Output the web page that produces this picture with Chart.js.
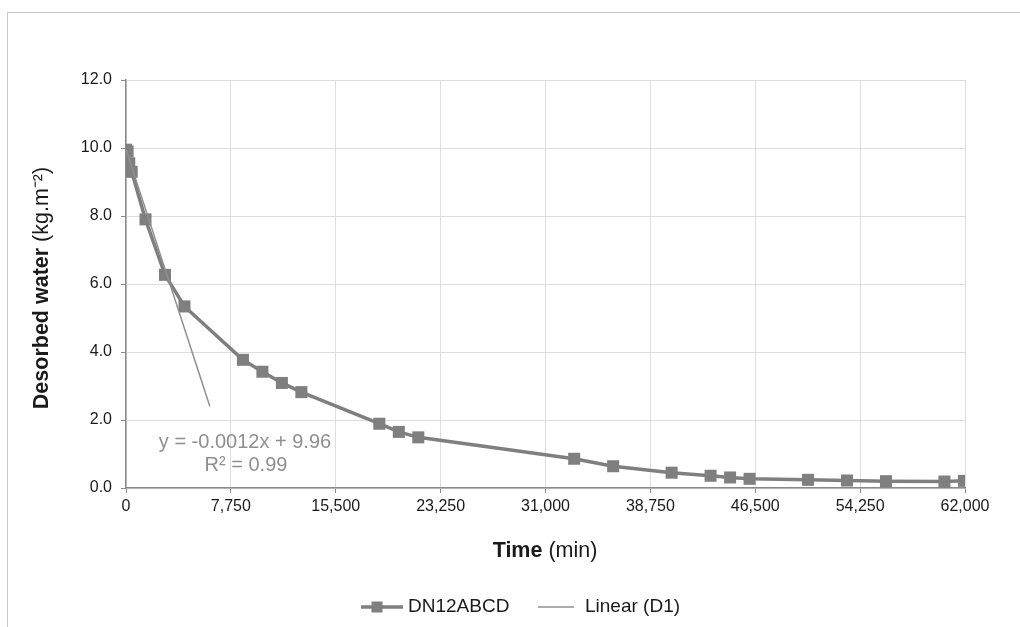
<!DOCTYPE html>
<html>
<head>
<meta charset="utf-8">
<script src="https://cdn.jsdelivr.net/npm/chart.js@4.4.1/dist/chart.umd.min.js"></script>
<style>
  html, body { margin: 0; padding: 0; background: #fff; overflow: hidden; }
  #frame { position: absolute; left: 7px; top: 12px; width: 1040px; height: 640px; border: 1px solid #c9c9c9; }
  #wrap { position: absolute; left: 0; top: 0; width: 1020px; height: 627px; }
</style>
</head>
<body>
<div id="frame"></div>
<div id="wrap"><canvas id="chart"></canvas></div>
<script>
// time in minutes, desorbed water in kg.m-2
const timeMin = [0, 120, 240, 420, 1440, 2880, 4320, 8640, 10080, 11520, 12960, 18720, 20160, 21600,
  33120, 36000, 40320, 43200, 44640, 46080, 50400, 53280, 56160, 60480, 61920];
const water = [9.95, 9.9, 9.55, 9.3, 7.9, 6.27, 5.34, 3.77, 3.42, 3.09, 2.82, 1.89, 1.65, 1.49,
  0.86, 0.64, 0.45, 0.36, 0.31, 0.27, 0.24, 0.22, 0.20, 0.19, 0.21];

// Linear (D1) trendline end points
const trendX = [0, 6200];
const trendY = [9.96, 2.4];

const seriesName = 'DN12ABCD';
const trendName = 'Linear (D1)';
const equation = ['y = -0.0012x + 9.96', 'R\u00b2 = 0.99'];

const font = 'Liberation Sans, Arial, sans-serif';
const lineGray = '#7f7f7f';
const trendGray = '#8f8f8f';
const titleSize = 21.5;

const extras = {
  id: 'extras',
  afterDraw(chart) {
    const ctx = chart.ctx;
    const area = chart.chartArea;
    ctx.save();
    ctx.fillStyle = '#1a1a1a';
    ctx.textBaseline = 'middle';

    // x axis title: bold "Time" + " (min)"
    ctx.font = 'bold ' + titleSize + 'px ' + font;
    const a = 'Time';
    const wa = ctx.measureText(a).width;
    ctx.font = titleSize + 'px ' + font;
    const b = ' (min)';
    const wb = ctx.measureText(b).width;
    let x0 = 545 - (wa + wb) / 2;
    ctx.textAlign = 'left';
    ctx.font = 'bold ' + titleSize + 'px ' + font;
    ctx.fillText(a, x0, 551);
    ctx.font = titleSize + 'px ' + font;
    ctx.fillText(b, x0 + wa, 551);

    // y axis title, rotated
    ctx.save();
    ctx.translate(42, 288);
    ctx.rotate(-Math.PI / 2);
    ctx.font = 'bold ' + titleSize + 'px ' + font;
    const c = 'Desorbed water';
    const wc = ctx.measureText(c).width;
    ctx.font = titleSize + 'px ' + font;
    const d = ' (kg.m\u207b\u00b2)';
    const wd = ctx.measureText(d).width;
    let y0 = -(wc + wd) / 2;
    ctx.font = 'bold ' + titleSize + 'px ' + font;
    ctx.fillText(c, y0, 0);
    ctx.font = titleSize + 'px ' + font;
    ctx.fillText(d, y0 + wc, 0);
    ctx.restore();

    // trendline equation
    ctx.fillStyle = trendGray;
    ctx.font = '20px ' + font;
    ctx.textAlign = 'center';
    ctx.fillText(equation[0], 245, 442);
    ctx.fillText(equation[1], 246, 465);

    // legend
    const ly = 607;
    ctx.strokeStyle = lineGray;
    ctx.lineWidth = 3.5;
    ctx.beginPath();
    ctx.moveTo(361, ly);
    ctx.lineTo(403, ly);
    ctx.stroke();
    ctx.fillStyle = lineGray;
    ctx.fillRect(377 - 5.5, ly - 5.5, 11, 11);
    ctx.strokeStyle = trendGray;
    ctx.lineWidth = 1.5;
    ctx.beginPath();
    ctx.moveTo(538, ly);
    ctx.lineTo(574, ly);
    ctx.stroke();
    ctx.fillStyle = '#1a1a1a';
    ctx.font = '19px ' + font;
    ctx.textAlign = 'left';
    ctx.fillText(seriesName, 408, ly);
    ctx.fillText(trendName, 585, ly);
    ctx.restore();
  }
};

new Chart(document.getElementById('chart'), {
  type: 'line',
  data: {
    datasets: [
      {
        label: seriesName,
        data: timeMin.map((t, i) => ({ x: t, y: water[i] })),
        borderColor: lineGray,
        backgroundColor: lineGray,
        borderWidth: 3.5,
        pointStyle: 'rect',
        pointRadius: 8.5,
        pointBorderWidth: 0,
        tension: 0,
        order: 2
      },
      {
        label: trendName,
        data: trendX.map((t, i) => ({ x: t, y: trendY[i] })),
        borderColor: trendGray,
        borderWidth: 1.5,
        pointRadius: 0,
        tension: 0,
        order: 1
      }
    ]
  },
  options: {
    responsive: true,
    maintainAspectRatio: false,
    animation: false,
    layout: { padding: { left: 0, right: 55, top: 80, bottom: 0 } },
    plugins: {
      legend: { display: false },
      tooltip: { enabled: false }
    },
    scales: {
      x: {
        type: 'linear',
        min: 0,
        max: 62000,
        afterFit(scale) { scale.height = 139; },
        grid: { color: '#dedede', tickColor: '#8a8a8a', tickLength: 5 },
        border: { color: '#8a8a8a', width: 1.5 },
        ticks: {
          stepSize: 7750,
          padding: 4,
          color: '#1a1a1a',
          font: { family: font, size: 16 },
          maxRotation: 0,
          callback: v => v.toLocaleString('en-US')
        }
      },
      y: {
        min: 0,
        max: 12,
        afterFit(scale) { scale.width = 126; },
        grid: { color: '#dedede', tickColor: '#8a8a8a', tickLength: 5 },
        border: { color: '#8a8a8a', width: 1.5 },
        ticks: {
          stepSize: 2,
          padding: 9,
          color: '#1a1a1a',
          font: { family: font, size: 16 },
          callback: v => v.toFixed(1)
        }
      }
    }
  },
  plugins: [extras]
});
</script>
</body>
</html>
